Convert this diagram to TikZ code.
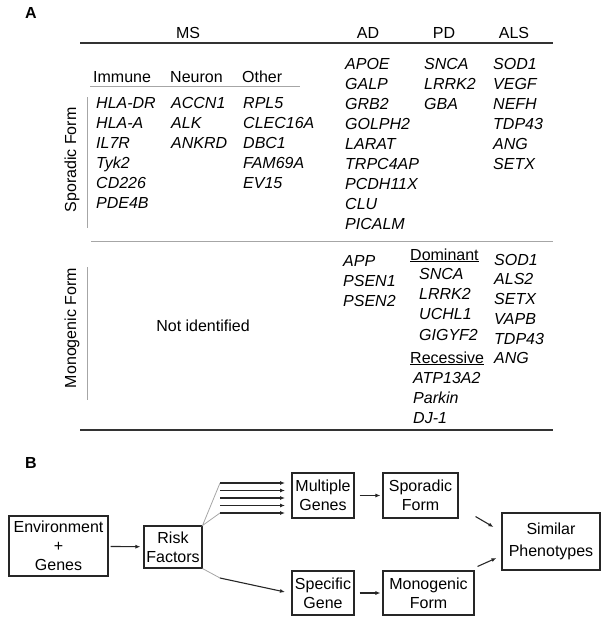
\documentclass[tikz,border=0pt]{standalone}
\usepackage{fontspec}
\setmainfont{Liberation Sans}
\usetikzlibrary{arrows.meta}
\usetikzlibrary{calc}

\begin{document}
\begin{tikzpicture}[x=1pt,y=-1pt,
  gene/.style={anchor=base west, inner sep=0pt, font=\fontsize{16}{19}\selectfont\itshape},
  head/.style={anchor=base, inner sep=0pt, font=\fontsize{16}{19}\selectfont},
  sub/.style={anchor=base west, inner sep=0pt, font=\fontsize{16}{19}\selectfont},
  rule/.style={line width=1.4pt, black!80},
  thinrule/.style={line width=0.8pt, black!35},
  box/.style={draw=black!85, line width=1.1pt, inner sep=0pt, align=center, font=\fontsize{16}{19}\selectfont},
  arr/.style={-{Latex[length=5pt,width=4pt]}, line width=1.1pt, black!85}]

\useasboundingbox (0,0) rectangle (612,621);

% Panel letters
\node[sub, font=\fontsize{16}{19}\selectfont\bfseries] (labA) at (25,18) {A};
\node[sub, font=\fontsize{16}{19}\selectfont\bfseries] (labB) at (25,468) {B};

% Table A: disease headers and rules
\node[head] (ms) at (188,38) {MS};
\node[head] (ad) at (368,38) {AD};
\node[head] (pd) at (444,38) {PD};
\node[head] (als) at (514,38) {ALS};
\draw[rule] (80,43) -- (553,43);
\draw[thinrule] (91,241) -- (553,241);
\draw[rule] (80,430) -- (553,430);

% Row labels
\node[rotate=90, inner sep=0pt, font=\fontsize{16}{19}\selectfont] (sporlab) at (72,160) {Sporadic Form};
\node[rotate=90, inner sep=0pt, font=\fontsize{16}{19}\selectfont] (monolab) at (72,328) {Monogenic Form};
\draw[thinrule] (87,97) -- (87,228);
\draw[thinrule] (87,267) -- (87,400);

% MS sub columns
\node[sub] (immune) at (93,82) {Immune};
\node[sub] (neuron) at (170,82) {Neuron};
\node[sub] (other) at (242,82) {Other};
\draw[thinrule] (90,86) -- (300,86);

\foreach \g [count=\i] in {HLA-DR,HLA-A,IL7R,Tyk2,CD226,PDE4B}
  \node[gene] (imm\i) at (96,88+20*\i) {\g};
\foreach \g [count=\i] in {ACCN1,ALK,ANKRD}
  \node[gene] (neu\i) at (171,88+20*\i) {\g};
\foreach \g [count=\i] in {RPL5,CLEC16A,DBC1,FAM69A,EV15}
  \node[gene] (oth\i) at (243,88+20*\i) {\g};

% Sporadic form genes
\foreach \g [count=\i] in {APOE,GALP,GRB2,GOLPH2,LARAT,TRPC4AP,PCDH11X,CLU,PICALM}
  \node[gene] (adS\i) at (345,49+20*\i) {\g};
\foreach \g [count=\i] in {SNCA,LRRK2,GBA}
  \node[gene] (pdS\i) at (424,49+20*\i) {\g};
\foreach \g [count=\i] in {SOD1,VEGF,NEFH,TDP43,ANG,SETX}
  \node[gene] (alsS\i) at (493,49+20*\i) {\g};

% Monogenic form genes
\node[head] (notid) at (203,331) {Not identified};
\foreach \g [count=\i] in {APP,PSEN1,PSEN2}
  \node[gene] (adM\i) at (343,246+20*\i) {\g};
\node[sub] (dom) at (410,260) {\underline{Dominant}};
\foreach \g [count=\i] in {SNCA,LRRK2,UCHL1,GIGYF2}
  \node[gene] (pdD\i) at (419,259+20.3*\i) {\g};
\node[sub] (rec) at (410,363) {\underline{Recessive}};
\foreach \g [count=\i] in {ATP13A2,Parkin,DJ-1}
  \node[gene] (pdR\i) at (413,363+20*\i) {\g};
\foreach \g [count=\i] in {SOD1,ALS2,SETX,VAPB,TDP43,ANG}
  \node[gene] (alsM\i) at (494,245.5+19.7*\i) {\g};

% Panel B: flow boxes
\node[box, minimum width=99pt, minimum height=60pt] (env) at (58.5,546) {Environment\\+\\Genes};
\node[box, minimum width=58pt, minimum height=42pt] (risk) at (173,547) {Risk\\Factors};
\node[box, minimum width=62pt, minimum height=45pt] (mult) at (323,495.5) {Multiple\\Genes};
\node[box, minimum width=62pt, minimum height=44pt] (spec) at (323,593) {Specific\\Gene};
\node[box, minimum width=75pt, minimum height=45pt] (spor) at (420.5,495.5) {Sporadic\\Form};
\node[box, minimum width=91pt, minimum height=44pt] (mono) at (428.5,593) {Monogenic\\Form};
\node[box, minimum width=98pt, minimum height=57pt] (sim) at (551,541.5) {Similar\\[3pt]Phenotypes};

% Connectors
\draw[arr, shorten <=2pt, shorten >=3pt] (env) -- (risk);
\coordinate (fanT) at (220,483);
\coordinate (fanB) at (220,513);
\coordinate (lowA) at (220,578);
\coordinate (lowB) at (285,592);
\draw[thinrule] (fanT) -- (risk.north east) -- (fanB);
\foreach \i in {0,...,4}
  \draw[arr] ($(fanT)+(0,7.5*\i)$) -- ($(fanT)+(65,7.5*\i)$);
\draw[thinrule] (risk.south east) -- (lowA);
\draw[arr] (lowA) -- (lowB);
\draw[arr, shorten <=5pt, shorten >=2pt] (mult) -- (spor);
\draw[arr, shorten <=5pt, shorten >=2pt] (spec) -- (mono);
\draw[arr] ($(spor.south east)+(17,-2)$) -- ($(sim.west)+(-8,-14.5)$);
\draw[arr] ($(mono.north east)+(3,-4)$) -- ($(sim.west)+(-5,16.5)$);

\end{tikzpicture}
\end{document}
